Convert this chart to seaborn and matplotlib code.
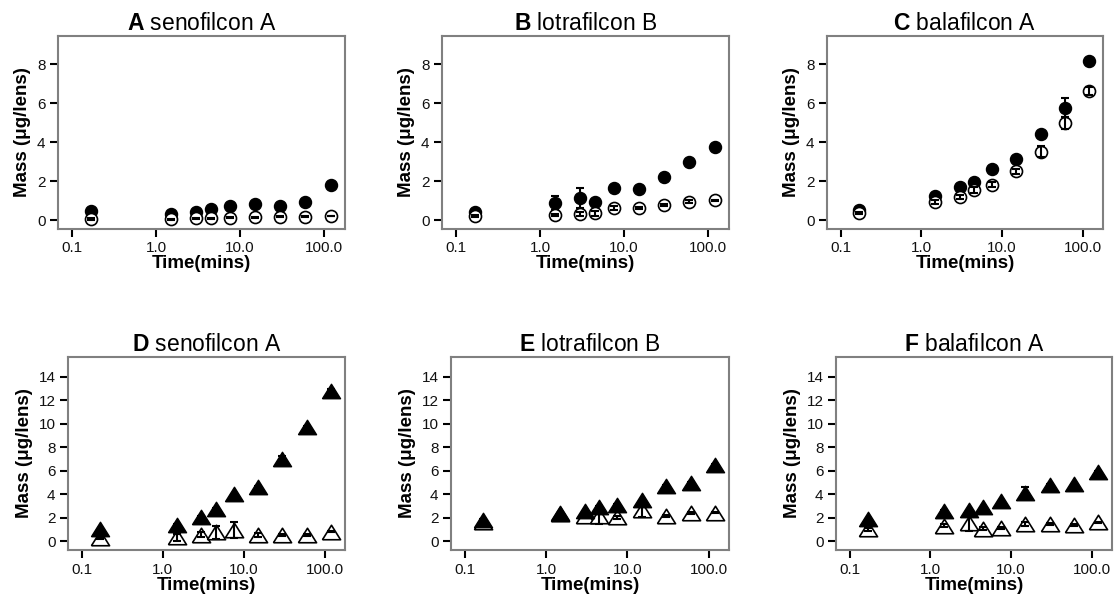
import numpy as np
import pandas as pd
import matplotlib
matplotlib.use("Agg")
import matplotlib.pyplot as plt
import seaborn as sns

sns.set_style("ticks")
plt.rcParams['font.family'] = ['Liberation Sans', 'DejaVu Sans']
plt.rcParams['mathtext.fontset'] = 'custom'
plt.rcParams['mathtext.rm'] = 'Liberation Sans'
plt.rcParams['mathtext.bf'] = 'Liberation Sans:bold'
plt.rcParams['text.color'] = 'black'
plt.rcParams['axes.labelcolor'] = 'black'

# vremena uzorkovanja (min)
time = [0.167, 1.5, 3, 4.5, 7.5, 15, 30, 60, 120]

# gornji red - krugovi
a_closed = [0.49, 0.32, 0.43, 0.6, 0.75, 0.82, 0.75, 0.96, 1.79]
a_closed_err = [0.1, 0.1, 0.1, 0.05, 0.05, 0.05, 0.05, 0.05, 0.1]
a_open = [0.08, 0.04, 0.1, 0.1, 0.12, 0.14, 0.19, 0.19, 0.22]
a_open_err = [0.05, 0.03, 0.03, 0.03, 0.03, 0.03, 0.03, 0.03, 0.01]

b_closed = [0.43, 0.89, 1.13, 0.92, 1.64, 1.6, 2.22, 2.97, 3.77]
b_closed_err = [0.05, 0.34, 0.52, 0.1, 0.1, 0.1, 0.1, 0.1, 0.1]
b_open = [0.2, 0.26, 0.32, 0.36, 0.63, 0.63, 0.8, 0.96, 1.02]
b_open_err = [0.05, 0.05, 0.12, 0.12, 0.12, 0.05, 0.05, 0.07, 0.02]

c_closed = [0.55, 1.23, 1.69, 1.98, 2.63, 3.16, 4.42, 5.78, 8.17]
c_closed_err = [0.1, 0.1, 0.1, 0.1, 0.1, 0.1, 0.1, 0.48, 0.1]
c_open = [0.38, 0.94, 1.18, 1.54, 1.83, 2.51, 3.52, 4.98, 6.64]
c_open_err = [0.05, 0.1, 0.1, 0.15, 0.12, 0.12, 0.3, 0.3, 0.2]

# donji red - trouglovi
d_closed = [1.0, 1.39, 2.1, 2.75, 4.0, 4.65, 6.97, 9.75, 12.8]
d_closed_err = [0.05, 0.05, 0.05, 0.05, 0.05, 0.05, 0.3, 0.05, 0.2]
d_open = [0.25, 0.35, 0.55, 0.76, 0.96, 0.54, 0.54, 0.54, 0.82]
d_open_err = [0.1, 0.3, 0.2, 0.55, 0.65, 0.2, 0.1, 0.1, 0.02]

e_closed = [1.8, 2.38, 2.55, 2.95, 3.1, 3.5, 4.7, 5.0, 6.5]
e_closed_err = [0.05, 0.05, 0.05, 0.05, 0.05, 0.05, 0.05, 0.05, 0.05]
e_open = [1.67, 2.3, 2.15, 2.15, 2.04, 2.66, 2.15, 2.38, 2.44]
e_open_err = [0.1, 0.1, 0.1, 0.7, 0.15, 0.6, 0.1, 0.1, 0.02]

f_closed = [1.87, 2.58, 2.63, 2.9, 3.4, 4.08, 4.79, 4.84, 5.9]
f_closed_err = [0.05, 0.05, 0.05, 0.05, 0.05, 0.5, 0.05, 0.05, 0.05]
f_open = [1.0, 1.33, 1.53, 1.08, 1.13, 1.47, 1.47, 1.39, 1.61]
f_open_err = [0.15, 0.15, 0.65, 0.15, 0.1, 0.15, 0.1, 0.1, 0.02]

panels = [
    ('A', 'senofilcon A', a_closed, a_closed_err, a_open, a_open_err),
    ('B', 'lotrafilcon B', b_closed, b_closed_err, b_open, b_open_err),
    ('C', 'balafilcon A', c_closed, c_closed_err, c_open, c_open_err),
    ('D', 'senofilcon A', d_closed, d_closed_err, d_open, d_open_err),
    ('E', 'lotrafilcon B', e_closed, e_closed_err, e_open, e_open_err),
    ('F', 'balafilcon A', f_closed, f_closed_err, f_open, f_open_err),
]

# pozicije osa u pikselima (levo, desno, gore, dole)
boxes = [(58, 345, 36, 229), (442, 729, 36, 229), (827, 1103, 36, 229),
         (68, 345, 357, 550), (451, 729, 357, 550), (836, 1112, 357, 550)]

W, H = 1116, 602
fig = plt.figure(figsize=(W / 100, H / 100), dpi=100)

# zatvoren trougao (siri nego visi)
tri = [(-1, -0.8), (1, -0.8), (0, 0.8), (-1, -0.8)]

for i, (letter, name, yc, ec, yo, eo) in enumerate(panels):
    l, r, t, b = boxes[i]
    ax = fig.add_axes([l / W, 1 - b / H, (r - l) / W, (b - t) / H])
    top_row = i < 3
    marker = 'o' if top_row else tri
    size = 75 if top_row else 170
    # gore su prazni krugovi iznad punih, dole puni trouglovi iznad praznih
    z_closed = 2 if top_row else 6
    z_open = 4 if top_row else 2

    df = pd.DataFrame({'time': time, 'closed': yc, 'ce': ec, 'open': yo, 'oe': eo})

    ax.errorbar(df['time'], df['closed'], yerr=df['ce'], fmt='none', ecolor='black',
                elinewidth=1.5, capsize=3, capthick=1.5, zorder=z_closed)
    sns.scatterplot(data=df, x='time', y='closed', ax=ax, marker=marker, s=size,
                    color='black', edgecolor='black', linewidth=1, zorder=z_closed + 1)
    sns.scatterplot(data=df, x='time', y='open', ax=ax, marker=marker, s=size,
                    facecolor='white', edgecolor='black', linewidth=1.2, zorder=z_open)
    ax.errorbar(df['time'], df['open'], yerr=df['oe'], fmt='none', ecolor='black',
                elinewidth=1.5, capsize=3, capthick=1.5, zorder=z_open + 1)

    ax.set_xscale('log')
    ax.set_xlim(0.068, 178)
    ax.set_xticks([0.1, 1, 10, 100])
    ax.set_xticklabels(['0.1', '1.0', '10.0', '100.0'])
    ax.xaxis.set_minor_locator(matplotlib.ticker.NullLocator())
    if top_row:
        ax.set_ylim(-0.45, 9.45)
        ax.set_yticks([0, 2, 4, 6, 8])
    else:
        ax.set_ylim(-0.75, 15.7)
        ax.set_yticks([0, 2, 4, 6, 8, 10, 12, 14])

    for s in ax.spines.values():
        s.set_color('#808080')
        s.set_linewidth(1.5)
    ax.tick_params(direction='out', length=6, width=1.5, color='black',
                   labelsize=11, labelcolor='#111111', pad=3)

    ax.set_title(r'$\mathbf{' + letter + '}$ ' + name, fontsize=16.5, pad=4)
    ax.set_xlabel('Time(mins)', fontsize=13.5, fontweight='bold', labelpad=0)
    ax.set_ylabel('Mass (μg/lens)', fontsize=13.5, fontweight='bold', labelpad=4)

fig.savefig('out.png', dpi=100)
